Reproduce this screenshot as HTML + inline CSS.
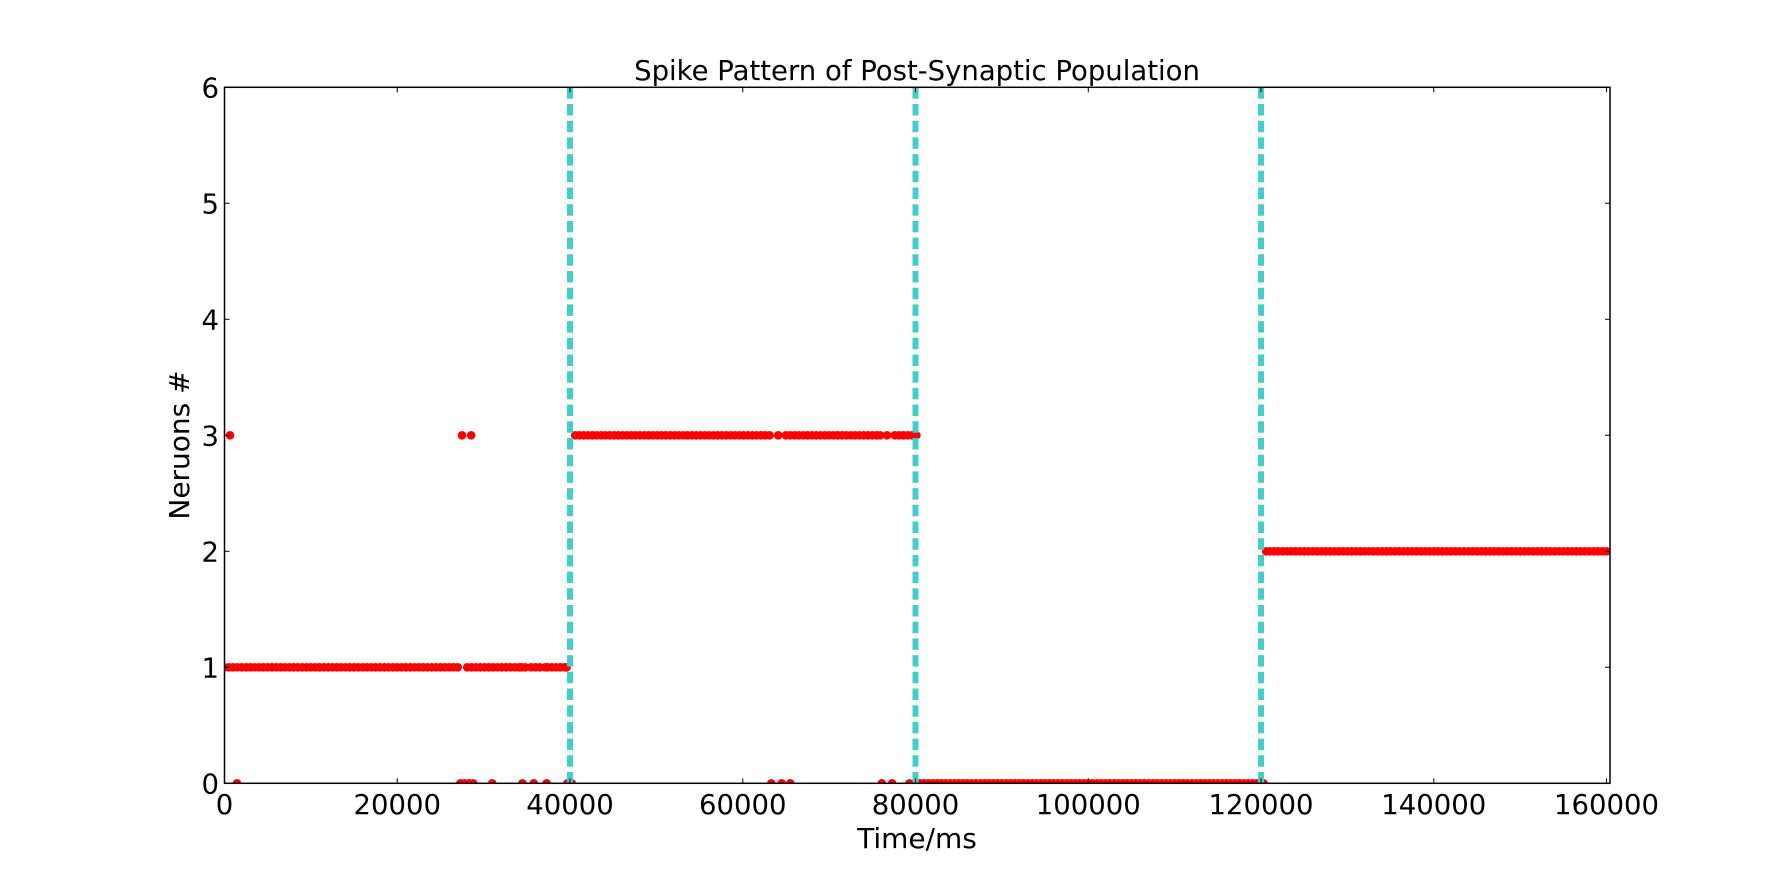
<!DOCTYPE html>
<html><head><meta charset="utf-8"><style>
html,body{margin:0;padding:0;background:#fff;}
svg{display:block;font-family:"DejaVu Sans","Liberation Sans",sans-serif;}
</style></head><body>
<svg id="chart" width="1788" height="871" viewBox="0 0 1788 871">
<defs><clipPath id="pc"><rect x="224.5" y="87.3" width="1385.5" height="696"/></clipPath></defs>
<rect width="1788" height="871" fill="#fff"/>
<text x="917" y="80" text-anchor="middle" font-size="27.5">Spike Pattern of Post-Synaptic Population</text>
<g id="marks" clip-path="url(#pc)"></g>
<g id="axes"></g>
<text x="917" y="848" text-anchor="middle" font-size="28">Time/ms</text>
<text transform="translate(189,445) rotate(-90)" text-anchor="middle" font-size="28">Neruons #</text>
</svg>
<script>
const xTicks=[0,20000,40000,60000,80000,100000,120000,140000,160000];
const yTicks=[0,1,2,3,4,5,6];
const stimLines=[40000,80000,120000];
const neuron0=[1450,27300,27800,28300,28800,31000,34500,35800,37300,39700,40200,63300,64500,65500,76100,77300,79300,80000,80500,81000,81500,82000,82500,83000,83500,84000,84500,85000,85500,86000,86500,87000,87500,88000,88500,89000,89500,90000,90500,91000,91500,92000,92500,93000,93500,94000,94500,95000,95500,96000,96500,97000,97500,98000,98500,99000,99500,100000,100500,101000,101500,102000,102500,103000,103500,104000,104500,105000,105500,106000,106500,107000,107500,108000,108500,109000,109500,110000,110500,111000,111500,112000,112500,113000,113500,114000,114500,115000,115500,116000,116500,117000,117500,118000,118500,119000,119500,120000,120300];
const neuron1=[0,500,1000,1500,2000,2500,3000,3500,4000,4500,5000,5500,6000,6500,7000,7500,8000,8500,9000,9500,10000,10500,11000,11500,12000,12500,13000,13500,14000,14500,15000,15500,16000,16500,17000,17500,18000,18500,19000,19500,20000,20500,21000,21500,22000,22500,23000,23500,24000,24500,25000,25500,26000,26500,27000,28100,28600,29100,29600,30100,30600,31100,31600,32100,32600,33100,33600,34100,34400,34800,35500,36000,36500,37100,37400,37900,38400,38900,39400,39600];
const neuron2=[120600,121000,121500,122000,122500,123000,123500,124000,124500,125000,125500,126000,126500,127000,127500,128000,128500,129000,129500,130000,130500,131000,131500,132000,132500,133000,133500,134000,134500,135000,135500,136000,136500,137000,137500,138000,138500,139000,139500,140000,140500,141000,141500,142000,142500,143000,143500,144000,144500,145000,145500,146000,146500,147000,147500,148000,148500,149000,149500,150000,150500,151000,151500,152000,152500,153000,153500,154000,154500,155000,155500,156000,156500,157000,157500,158000,158500,159000,159500,160000];
const neuron3=[640,27500,28560,40600,41100,41600,42100,42600,43100,43600,44100,44600,45100,45600,46100,46600,47100,47600,48100,48600,49100,49600,50100,50600,51100,51600,52100,52600,53100,53600,54100,54600,55100,55600,56100,56600,57100,57600,58100,58600,59100,59600,60100,60600,61100,61600,62100,62600,63100,64100,65000,65500,66000,66500,67000,67500,68000,68500,69000,69500,70000,70500,71000,71500,72000,72500,73000,73500,74000,74500,75000,75500,75900,76700,77600,78100,78600,79100,79600,80100];
const spikeTrains=[neuron0,neuron1,neuron2,neuron3];

const L=224.5,R=1610,T=87.3,B=783.3,XMAX=160400,YMAX=6;
const sx=v=>L+v/XMAX*(R-L);
const sy=v=>B-v/YMAX*(B-T);
const NS='http://www.w3.org/2000/svg';
function mk(tag,attrs,parent){const e=document.createElementNS(NS,tag);for(const k in attrs)e.setAttribute(k,attrs[k]);parent.appendChild(e);return e;}
const marks=document.getElementById('marks');
const axes=document.getElementById('axes');

spikeTrains.forEach((train,n)=>{
  train.forEach(t=>{
    const c=mk('circle',{cx:sx(t),cy:sy(n),r:4.3,fill:'#ff0000'},marks);
    
    
  });
});
stimLines.forEach(t=>{
  const l=mk('line',{x1:sx(t),x2:sx(t),y1:T,y2:B,stroke:'#40d0cc','stroke-width':6,'stroke-dasharray':'11.5 5.2'},marks);
  
  
});

const frame=mk('rect',{x:L,y:T,width:R-L,height:B-T,fill:'none',stroke:'#000','stroke-width':1.5},axes);



xTicks.forEach(v=>{
  const x=sx(v);
  mk('line',{x1:x,x2:x,y1:B,y2:B-5,stroke:'#000','stroke-width':1},axes);
  mk('line',{x1:x,x2:x,y1:T,y2:T+5,stroke:'#000','stroke-width':1},axes);
  const t=mk('text',{x:x,y:814,'text-anchor':'middle','font-size':27.5},axes);
  t.textContent=v;
  
  
});
yTicks.forEach(v=>{
  const y=sy(v);
  mk('line',{x1:L,x2:L+5,y1:y,y2:y,stroke:'#000','stroke-width':1},axes);
  mk('line',{x1:R,x2:R-5,y1:y,y2:y,stroke:'#000','stroke-width':1},axes);
  const t=mk('text',{x:219,y:y+10,'text-anchor':'end','font-size':27.5},axes);
  t.textContent=v;
  
  
});
</script>
</body></html>
